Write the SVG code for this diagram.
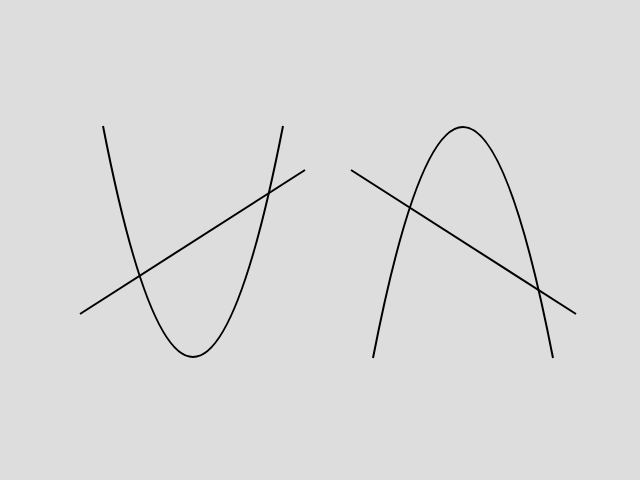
<svg xmlns="http://www.w3.org/2000/svg" width="640" height="480" viewBox="0 0 640 480">
<style>.c{fill:none;stroke:#000;stroke-width:2}</style>
<rect width="640" height="480" fill="#dddddd"/>
<g id="left">
<path class="c" d="M103,126 Q193,588 283,126"/>
<path class="c" d="M80,314 L305,170"/>
</g>
<g id="right">
<path class="c" d="M373,358 Q463,-104 553,358"/>
<path class="c" d="M351,170 L576,314"/>
</g>
</svg>
